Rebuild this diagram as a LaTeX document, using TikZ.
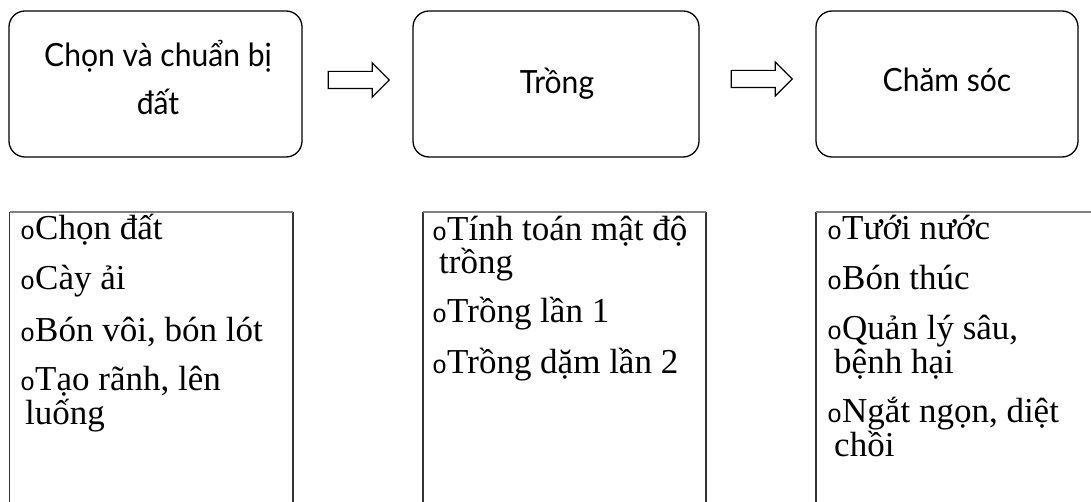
\documentclass[tikz,border=0pt]{standalone}
\usepackage{fontspec}
\setmainfont{Liberation Serif}
\newfontfamily\headfont[FakeStretch=0.94]{Lato}
\newfontfamily\listfont{Liberation Serif}
\newfontfamily\markfont{Liberation Mono}
\newcommand{\bul}{{\markfont\fontsize{25}{25}\selectfont o}}
\usetikzlibrary{shapes.arrows}

\begin{document}
\begin{tikzpicture}[x=1pt,y=-1pt,
  topbox/.style={draw=black, line width=1.3pt, rounded corners=16pt, inner sep=0pt},
  headtext/.style={font=\headfont\fontsize{32}{48}\selectfont, inner sep=0pt, anchor=base},
  blockarrow/.style={single arrow, draw=black, line width=1.2pt, fill=white,
    text height=16pt, text depth=0pt, text width=0pt,
    minimum height=61pt, single arrow head extend=8.5pt,
    single arrow head indent=0pt, inner sep=0pt},
  sideline/.style={draw=black!80, line width=1.3pt},
  topline/.style={draw=black!50, line width=1.3pt},
  item/.style={font=\listfont\fontsize{35}{35}\selectfont, inner sep=0pt, anchor=base west}
]
\useasboundingbox (0,0) rectangle (1091,502);

% stage boxes
\node[topbox, minimum width=293pt, minimum height=146pt] (b1) at (155.5,84) {};
\node[topbox, minimum width=286pt, minimum height=146pt] (b2) at (556,84) {};
\node[topbox, minimum width=262pt, minimum height=146pt] (b3) at (947,84) {};

\node[headtext] (h1a) at (158,67) {Chọn và chuẩn bị};
\node[headtext] (h1b) at (158,115) {đất};
\node[headtext] (h2) at (557,94) {Trồng};
\node[headtext] (h3) at (947,92) {Chăm sóc};

% block arrows between the stages
\node[blockarrow] (a1) at (354.5,80) {};
\node[blockarrow] (a2) at (757.5,79) {};

% task panels (open at the bottom)
\draw[sideline] (9.5,502) -- (9.5,212);
\draw[sideline] (293,212) -- (293,502);
\draw[topline] (9.5,212) -- (293,212);

\draw[sideline] (423,502) -- (423,212);
\draw[sideline] (706,212) -- (706,502);
\draw[topline] (423,212) -- (706,212);

\draw[sideline] (816,502) -- (816,212);
\draw[topline] (816,212) -- (1091,212);

% tasks: land preparation
\node[item] (p1) at (20,240) {\bul Chọn đất};
\node[item] (p2) at (20,290) {\bul Cày ải};
\node[item] (p3) at (20,341) {\bul Bón vôi, bón lót};
\node[item] (p4) at (20,390) {\bul Tạo rãnh, lên};
\node[item] (p4b) at (25,424) {luống};

% tasks: planting
\node[item] (q1) at (432,241) {\bul Tính toán mật độ};
\node[item] (q1b) at (439,274) {trồng};
\node[item] (q2) at (432,323) {\bul Trồng lần 1};
\node[item] (q3) at (432,373) {\bul Trồng dặm lần 2};

% tasks: care
\node[item] (r1) at (827,240) {\bul Tưới nước};
\node[item] (r2) at (827,290) {\bul Bón thúc};
\node[item] (r3) at (827,339) {\bul Quản lý sâu,};
\node[item] (r3b) at (834,373) {bệnh hại};
\node[item] (r4) at (827,422) {\bul Ngắt ngọn, diệt};
\node[item] (r4b) at (834,456) {chồi};
\end{tikzpicture}
\end{document}
